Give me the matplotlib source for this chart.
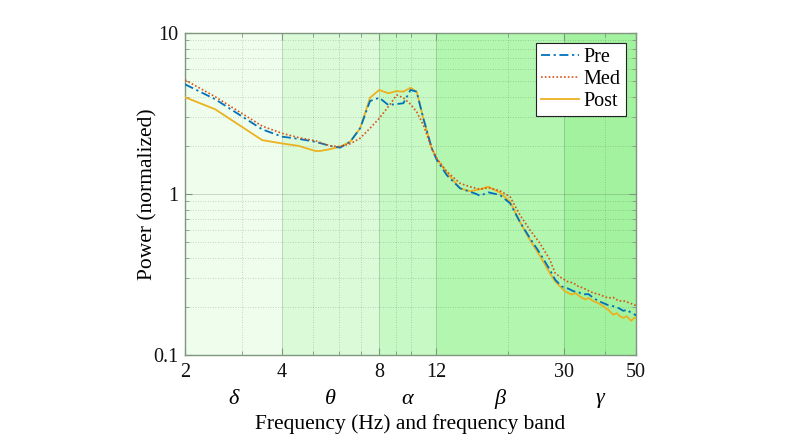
import matplotlib
matplotlib.use("Agg")
import matplotlib.pyplot as plt
from matplotlib.ticker import FixedLocator, NullFormatter, FixedFormatter
import matplotlib.transforms as mtransforms

# ---------------- data ----------------
pre_f = [2.0, 2.48, 3.47, 4.0, 4.5, 5.07, 5.64, 6.05, 6.5, 6.98, 7.49, 8.0, 8.54, 9.06,
         9.5, 10.0, 10.45, 10.96, 11.64, 12.06, 12.95, 14.24, 15.29, 16.0, 16.42, 17.43,
         18.93, 20.35, 21.84, 23.46, 25.2, 27.07, 28.06, 29.4, 30.9, 32.0, 33.1, 34.3,
         35.6, 36.9, 38.2, 39.6, 41.0, 42.5, 44.1, 45.7, 46.8, 48.5, 49.7, 50.0]
pre_p = [4.80, 3.88, 2.52, 2.27, 2.20, 2.11, 1.99, 1.94, 2.11, 2.56, 3.78, 3.96, 3.57, 3.62,
         3.66, 4.43, 4.32, 2.95, 1.92, 1.63, 1.31, 1.085, 1.033, 1.0, 0.975, 1.024,
         0.986, 0.876, 0.67, 0.531, 0.428, 0.337, 0.294, 0.267, 0.258, 0.249, 0.246, 0.238,
         0.239, 0.226, 0.217, 0.210, 0.204, 0.201, 0.196, 0.188, 0.191, 0.182, 0.178, 0.175]

med_f = [2.0, 2.48, 3.47, 4.0, 4.5, 5.07, 5.64, 6.05, 6.5, 6.98, 7.49, 8.0, 8.54, 9.06,
         9.5, 10.0, 10.45, 10.96, 11.64, 12.06, 12.95, 14.24, 15.29, 16.42, 17.43, 18.93,
         20.35, 21.84, 23.46, 25.2, 27.07, 28.06, 29.4, 30.5, 32.0, 33.1, 34.3, 35.6,
         36.9, 38.2, 39.6, 41.0, 42.5, 44.1, 46.2, 47.9, 49.7, 50.0]
med_p = [5.11, 4.02, 2.64, 2.38, 2.24, 2.14, 1.99, 1.97, 2.05, 2.22, 2.56, 2.95, 3.49, 4.12,
         3.96, 3.61, 3.24, 2.68, 1.92, 1.66, 1.38, 1.165, 1.11, 1.07, 1.094, 1.048,
         0.962, 0.741, 0.598, 0.494, 0.389, 0.323, 0.301, 0.287, 0.280, 0.267, 0.261, 0.251,
         0.243, 0.239, 0.232, 0.226, 0.228, 0.217, 0.216, 0.210, 0.204, 0.198]

post_f = [2.0, 2.48, 3.47, 4.0, 4.5, 5.07, 5.24, 5.64, 6.05, 6.5, 6.98, 7.49, 8.0, 8.54,
          9.06, 9.5, 10.0, 10.45, 10.96, 11.64, 12.06, 12.95, 14.24, 15.29, 16.42, 17.43,
          18.93, 20.35, 21.84, 23.46, 25.2, 27.07, 28.06, 30.1, 31.6, 32.4, 33.5, 34.8,
          35.6, 36.9, 38.2, 39.6, 41.0, 42.5, 43.6, 44.6, 45.7, 46.8, 48.3, 49.3, 50.0]
post_p = [3.99, 3.36, 2.16, 2.06, 1.99, 1.85, 1.85, 1.90, 1.97, 2.11, 2.56, 3.96, 4.43, 4.22,
          4.36, 4.32, 4.57, 4.32, 2.95, 1.92, 1.66, 1.36, 1.085, 1.04, 1.07, 1.11,
          1.02, 0.896, 0.67, 0.518, 0.412, 0.321, 0.287, 0.249, 0.237, 0.243, 0.231, 0.221,
          0.226, 0.216, 0.210, 0.201, 0.191, 0.178, 0.182, 0.174, 0.170, 0.174, 0.163, 0.170, 0.170]

series_names = ["Pre", "Med", "Post"]
band_edges = [2, 4, 8, 12, 30, 50]
band_names = ["δ", "θ", "α", "β", "γ"]
x_major = [2, 4, 8, 12, 30, 50]
x_minor = [3, 5, 6, 7, 9, 10, 20, 40]
y_major = [0.1, 1, 10]
y_labels = ["0.1", "1", "10"]

# ---------------- style ----------------
FONT = "Liberation Serif"
plt.rcParams["font.family"] = [FONT, "DejaVu Serif"]
band_colors = ["#eefdec", "#dbfbd8", "#c7f9c4", "#b3f6b0", "#a2f29f"]
spine_col = "#7f967f"

fig = plt.figure(figsize=(8.0, 4.37), dpi=100)
ax = fig.add_axes([0.23125, 0.1876, 0.56375, 0.7369])
ax.set_xscale("log")
ax.set_yscale("log")
ax.set_xlim(2, 50)
ax.set_ylim(0.1, 10)

for i in range(len(band_names)):
    ax.axvspan(band_edges[i], band_edges[i + 1], color=band_colors[i], zorder=0.1, lw=0)

ax.set_axisbelow(True)

ax.plot(pre_f, pre_p, color="#0072BD", lw=1.3, ls=(0, (5, 2, 1.2, 2)), label=series_names[0], zorder=3)
ax.plot(med_f, med_p, color="#D95319", lw=1.2, ls=(0, (1, 1.3)), label=series_names[1], zorder=3)
ax.plot(post_f, post_p, color="#EDB120", lw=1.3, ls="-", label=series_names[2], zorder=2.9)

ax.xaxis.set_major_locator(FixedLocator(x_major))
ax.xaxis.set_major_formatter(FixedFormatter([str(v) for v in x_major]))
ax.xaxis.set_minor_locator(FixedLocator(x_minor))
ax.xaxis.set_minor_formatter(NullFormatter())
ax.yaxis.set_major_locator(FixedLocator(y_major))
ax.yaxis.set_major_formatter(FixedFormatter(y_labels))
ax.yaxis.set_minor_locator(FixedLocator([m * d for d in (0.1, 1) for m in range(2, 10)]))
ax.yaxis.set_minor_formatter(NullFormatter())

ax.grid(True, which="major", color="#000000", alpha=0.15, lw=0.7, ls="-")
ax.grid(True, which="minor", color="#000000", alpha=0.22, lw=0.6, ls=(0, (1, 2)))

for s in ax.spines.values():
    s.set_color(spine_col)
    s.set_linewidth(1.0)
ax.tick_params(which="both", direction="in", top=True, right=True, colors=spine_col,
               labelcolor="#111111", labelsize=14.5)
ax.tick_params(which="major", length=5, width=0.8)
ax.tick_params(which="minor", length=3, width=0.6)
ax.tick_params(axis="x", pad=6)
ax.tick_params(axis="y", pad=5)

trans = mtransforms.blended_transform_factory(ax.transData, fig.transFigure)
for i, name in enumerate(band_names):
    xc = (band_edges[i] * band_edges[i + 1]) ** 0.5
    ax.text(xc, 1 - 399 / 437, name, transform=trans, ha="center", va="center",
            fontsize=16, style="italic", family=[FONT, "DejaVu Serif"])

ax.set_xlabel("Frequency (Hz) and frequency band", fontsize=15.5)
ax.xaxis.set_label_coords(0.5, -0.185)
ax.set_ylabel("Power (normalized)", fontsize=15.5)
ax.yaxis.set_label_coords(-0.06, 0.5)

leg = ax.legend(loc="upper right", fontsize=14.5, frameon=True, fancybox=False,
                edgecolor="#222222", framealpha=1, handlelength=1.9, handletextpad=0.25,
                borderpad=0.25, labelspacing=0.15, borderaxespad=0.5)
leg.get_frame().set_linewidth(0.8)

fig.savefig("out.png", dpi=100)
